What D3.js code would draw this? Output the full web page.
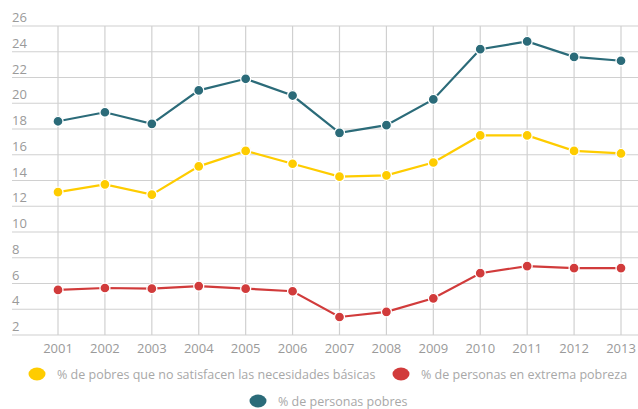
<!DOCTYPE html>
<html>
<head>
<meta charset="utf-8">
<script src="https://cdn.jsdelivr.net/npm/d3@7"></script>
<style>
  body { margin: 0; background: #fff; }
  svg { display: block; font-family: "Open Sans", sans-serif; }
  .tick-label { fill: #9a9a9a; font-size: 13px; }
  .legend-text { fill: #a8a8a8; font-size: 12.5px; }
</style>
</head>
<body>
<div id="chart"></div>
<script>
const years = [2001, 2002, 2003, 2004, 2005, 2006, 2007, 2008, 2009, 2010, 2011, 2012, 2013]
const y_ticks = [2, 4, 6, 8, 10, 12, 14, 16, 18, 20, 22, 24, 26]

const pobres = [18.6, 19.3, 18.4, 21.0, 21.9, 20.6, 17.7, 18.3, 20.3, 24.2, 24.8, 23.6, 23.3]
const nbi = [13.1, 13.7, 12.9, 15.1, 16.3, 15.3, 14.3, 14.4, 15.4, 17.5, 17.5, 16.3, 16.1]
const extrema = [5.5, 5.65, 5.6, 5.8, 5.6, 5.4, 3.4, 3.8, 4.85, 6.8, 7.35, 7.2, 7.2]

const series = [
    {name: "% de pobres que no satisfacen las necesidades básicas", values: nbi, color: "#fecc00"},
    {name: "% de personas en extrema pobreza", values: extrema, color: "#d13b3b"},
    {name: "% de personas pobres", values: pobres, color: "#2b6b79"}
]

const width = 638
const height = 409

const svg = d3.select("#chart").append("svg")
    .attr("width", width)
    .attr("height", height)

const xScale = d3.scalePoint()
    .domain(years)
    .range([58, 621])

const yScale = d3.scaleLinear()
    .domain([2, 26])
    .range([335, 26])

// horizontal grid + labels sitting above the lines
for (const t of y_ticks) {
    svg.append("line")
        .attr("x1", 12).attr("x2", width)
        .attr("y1", yScale(t)).attr("y2", yScale(t))
        .attr("stroke", "#d0d0d0")
        .attr("stroke-width", 1.2)
    svg.append("text")
        .attr("class", "tick-label")
        .attr("x", 12)
        .attr("y", yScale(t) - 4)
        .text(t)
}

// vertical grid + year labels
for (const yr of years) {
    svg.append("line")
        .attr("x1", xScale(yr)).attr("x2", xScale(yr))
        .attr("y1", yScale(26)).attr("y2", yScale(2))
        .attr("stroke", "#d0d0d0")
        .attr("stroke-width", 1.2)
    svg.append("text")
        .attr("class", "tick-label")
        .attr("x", xScale(yr))
        .attr("y", 353)
        .attr("text-anchor", "middle")
        .text(yr)
}

const line = d3.line()
    .x((d, i) => xScale(years[i]))
    .y(d => yScale(d))

for (const s of series) {
    svg.append("path")
        .datum(s.values)
        .attr("fill", "none")
        .attr("stroke", s.color)
        .attr("stroke-width", 2.2)
        .attr("d", line)
    svg.selectAll(null)
        .data(s.values)
        .join("circle")
        .attr("cx", (d, i) => xScale(years[i]))
        .attr("cy", d => yScale(d))
        .attr("r", 5)
        .attr("fill", s.color)
        .attr("stroke", "#fff")
        .attr("stroke-width", 1.3)
}

// legend
const legend_pos = [
    {x: 37, y: 374},
    {x: 401, y: 374},
    {x: 258, y: 401}
]
series.forEach((s, i) => {
    const p = legend_pos[i]
    svg.append("ellipse")
        .attr("cx", p.x).attr("cy", p.y)
        .attr("rx", 8.5).attr("ry", 6.5)
        .attr("fill", s.color)
    svg.append("text")
        .attr("class", "legend-text")
        .attr("x", p.x + 20)
        .attr("y", p.y + 4.5)
        .text(s.name)
})
</script>
</body>
</html>
